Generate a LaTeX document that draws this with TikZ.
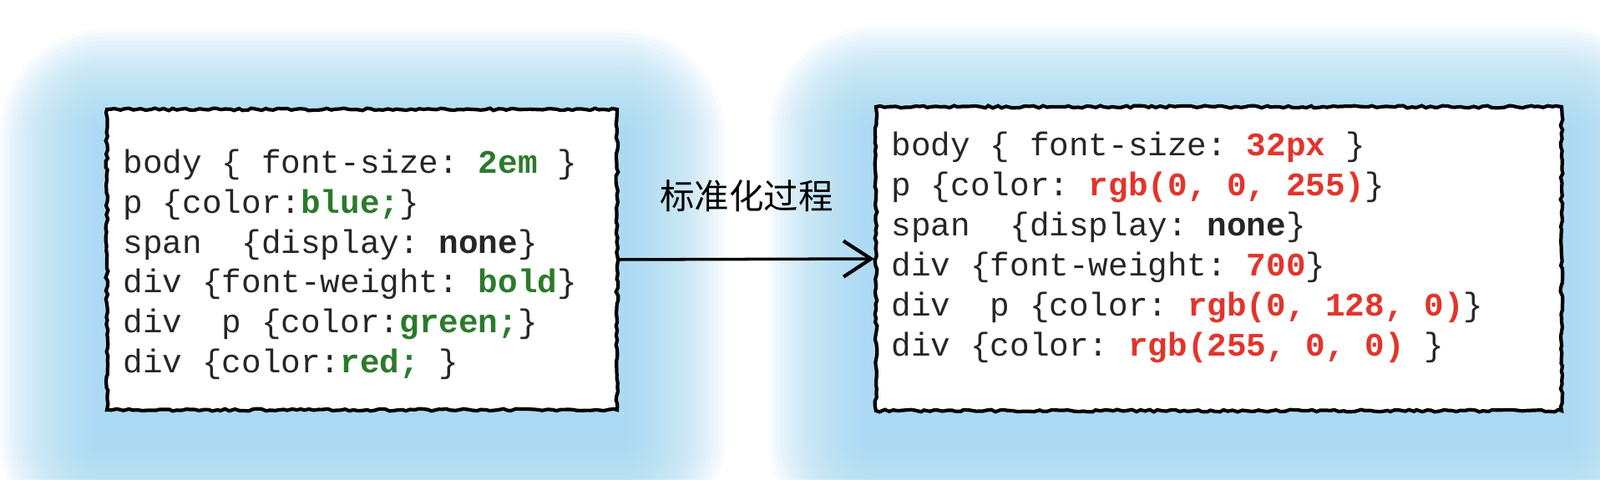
\documentclass[tikz,border=0pt]{standalone}
\usepackage{fontspec}
\setmonofont{Liberation Mono}
\newfontfamily\cjk{Noto Sans CJK SC}
\usetikzlibrary{positioning,arrows.meta,decorations.pathmorphing}

\newcommand\kwgreen[1]{\textbf{\color{greenColour}#1}}
\newcommand\kwred[1]{\textbf{\color{redColour}#1}}

\begin{document}
\begin{tikzpicture}
    % Define colours
    \definecolor{glowColour}{HTML}{A3D9F3}
    \definecolor{greenColour}{HTML}{2B7A2B}
    \definecolor{redColour}{HTML}{E3342B}
    \definecolor{textColour}{HTML}{262626}

    \tikzset{
        codebox/.style={draw=black, fill=white, line width=1.2pt, inner sep=0pt,
            decorate, decoration={random steps, segment length=1.5pt, amplitude=0.4pt}},
        codeline/.style={anchor=base west, inner sep=0pt, text=textColour,
            font=\ttfamily\fontsize{11.2}{13.7}\selectfont},
        glow/.style={fill=glowColour, opacity=0.07}
    }

    % Canvas
    \useasboundingbox (0,0) rectangle (19.16,5.74);
    \fill[white] (0,0) rectangle (19.16,5.74);

    % Soft blue glow behind both boxes
    \foreach \k in {1,...,26} {
        \pgfmathsetmacro{\e}{0.05*\k}
        \fill[glow, rounded corners=\e cm] (1.28-\e,0.50-\e) rectangle (7.39+\e,4.10+\e);
        \fill[glow, rounded corners=\e cm] (10.49-\e,0.49-\e) rectangle (18.70+\e,4.13+\e);
    }

    % The two boxes
    \node[codebox, minimum width=6.11cm, minimum height=3.60cm] (before) at (4.335,2.63) {};
    \node[codebox, minimum width=8.21cm, minimum height=3.64cm] (after) at (14.595,2.64) {};

    % Code before
    \foreach \code [count=\i] in {
        {body \{ font-size: \kwgreen{2em} \}},
        {p \{color:\kwgreen{blue;}\}},
        {span~~\{display: \textbf{none}\}},
        {div \{font-weight: \kwgreen{bold}\}},
        {div~~p \{color:\kwgreen{green;}\}},
        {div \{color:\kwgreen{red;} \}}}
        \node[codeline] (src-\i) at (1.47,4.14-0.477*\i) {\code};

    % Code after
    \foreach \code [count=\i] in {
        {body \{ font-size: \kwred{32px} \}},
        {p \{color: \kwred{rgb(0, 0, 255)}\}},
        {span~~\{display: \textbf{none}\}},
        {div \{font-weight: \kwred{700}\}},
        {div~~p \{color: \kwred{rgb(0, 128, 0)}\}},
        {div \{color: \kwred{rgb(255, 0, 0)} \}}}
        \node[codeline] (res-\i) at (10.67,4.361-0.481*\i) {\code};

    % Arrow and label
    \draw[line width=1pt, -{Straight Barb[length=0.33cm,width=0.43cm,line width=1.2pt]}]
        (before.east) -- node[above=0.55cm, inner sep=0pt, font=\cjk\fontsize{11.8}{14}\selectfont] (norm) {标准化过程} (after.west);

\end{tikzpicture}
\end{document}
